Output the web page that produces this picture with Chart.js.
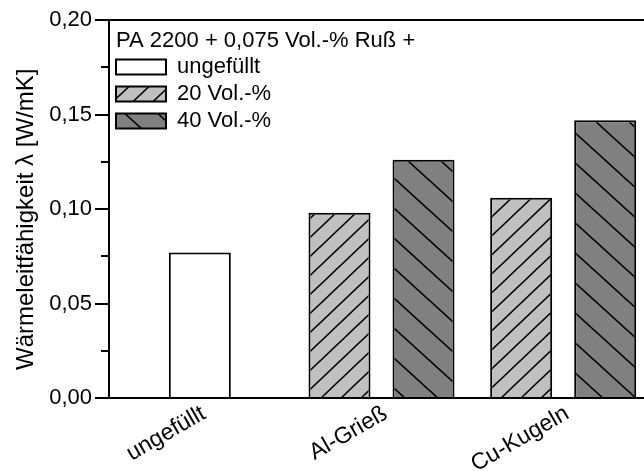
<!DOCTYPE html>
<html>
<head>
<meta charset="utf-8">
<script src="https://cdn.jsdelivr.net/npm/chart.js@4.4.1/dist/chart.umd.min.js"></script>
<style>
  html, body { margin: 0; padding: 0; overflow: hidden; background: #fff; }
  #wrap { width: 660px; height: 471px; position: relative; }
</style>
</head>
<body>
<div id="wrap"><canvas id="c"></canvas></div>
<script>
// ---- data ----
const categories = ['ungefüllt', 'Al-Grieß', 'Cu-Kugeln'];
const seriesNames = ['ungefüllt', '20 Vol.-%', '40 Vol.-%'];
const valuesUnfilled = [0.077, null, null];
const values20 = [null, 0.098, 0.106];
const values40 = [null, 0.126, 0.147];
const yTickLabels = ['0,00', '0,05', '0,10', '0,15', '0,20'];
const legendHeading = 'PA 2200 + 0,075 Vol.-% Ruß +';
const yAxisTitle = 'Wärmeleitfähigkeit λ [W/mK]';

const FONT = "'Liberation Sans', Arial, Helvetica, sans-serif";
Chart.defaults.font.family = FONT;
Chart.defaults.color = '#000';

function hatch(bg, w, h, dir) {
  const c = document.createElement('canvas');
  c.width = w; c.height = h;
  const g = c.getContext('2d');
  g.fillStyle = bg; g.fillRect(0, 0, w, h);
  g.strokeStyle = '#000'; g.lineWidth = 1.6;
  g.beginPath();
  if (dir > 0) {
    for (let k = 0; k <= 2; k++) { g.moveTo(w * (k + 1), -h); g.lineTo(w * (k - 2), 2 * h); }
  } else {
    for (let k = -1; k <= 1; k++) { g.moveTo(w * (k - 1), -h); g.lineTo(w * (k + 2), 2 * h); }
  }
  g.stroke();
  return g.createPattern(c, 'repeat');
}
const pat20 = hatch('#c0c0c0', 20, 19, 1);
const pat40 = hatch('#808080', 33, 30, -1);

const textPlugin = {
  id: 'texts',
  afterLayout(chart) {
    // place the legend inside the plot, below its heading
    const lg = chart.legend;
    const dy = chart.chartArea.top + 31 - lg.top;
    lg.top += dy; lg.bottom += dy;
    const dx = chart.chartArea.left + 2 - lg.left;
    lg.left += dx; lg.right += dx;
  },
  afterDraw(chart) {
    const ctx = chart.ctx;
    ctx.save();
    ctx.fillStyle = '#000';
    ctx.font = '22px ' + FONT;
    ctx.textAlign = 'left';
    ctx.textBaseline = 'middle';
    ctx.fillText(legendHeading, chart.chartArea.left + 7, chart.chartArea.top + 21);
    ctx.font = '24px ' + FONT;
    ctx.translate(33, 370);
    ctx.rotate(-Math.PI / 2);
    ctx.textBaseline = 'alphabetic';
    ctx.fillText(yAxisTitle, 0, 0);
    ctx.restore();
  }
};

new Chart(document.getElementById('c'), {
  type: 'bar',
  data: {
    labels: categories,
    datasets: [
      { label: seriesNames[0], data: valuesUnfilled, backgroundColor: '#ffffff', borderColor: '#000', borderWidth: 2 },
      { label: seriesNames[1], data: values20, backgroundColor: pat20, borderColor: '#000', borderWidth: 2 },
      { label: seriesNames[2], data: values40, backgroundColor: pat40, borderColor: '#000', borderWidth: 2 }
    ]
  },
  options: {
    responsive: true,
    maintainAspectRatio: false,
    animation: false,
    layout: { padding: { top: 20, right: 6, bottom: 0, left: 0 } },
    datasets: {
      bar: { skipNull: true, categoryPercentage: 0.925, barPercentage: 0.738, maxBarThickness: 62 }
    },
    plugins: {
      tooltip: { enabled: false },
      legend: {
        position: 'chartArea',
        align: 'start',
        labels: {
          boxWidth: 50, boxHeight: 15, padding: 5,
          color: '#000',
          font: { size: 22, family: FONT }
        }
      }
    },
    scales: {
      x: {
        offset: true,
        grid: { display: false },
        border: { display: true, color: '#000', width: 2 },
        ticks: { minRotation: 30, maxRotation: 30, color: '#000', font: { size: 23, family: FONT }, padding: -6, labelOffset: 4 },
        afterFit(scale) { scale.height = 73; }
      },
      y: {
        min: 0, max: 0.2,
        border: { display: true, color: '#000', width: 2 },
        grid: {
          drawOnChartArea: true,
          color: (c) => (c.tick && Math.abs(c.tick.value - 0.2) < 1e-9) ? '#000' : 'rgba(0,0,0,0)',
          lineWidth: 2,
          tickColor: '#000',
          tickWidth: 2,
          tickLength: 14,
          tickBorderDash: (c) => (c.index % 2 === 1) ? [0, 6, 20, 0] : []
        },
        ticks: {
          stepSize: 0.025,
          autoSkip: false,
          padding: 3,
          color: '#000',
          font: { size: 22, family: FONT },
          callback: (v, i) => (i % 2 === 0) ? yTickLabels[i / 2] : ''
        },
        afterFit(scale) { scale.width = 109; }
      }
    }
  },
  plugins: [textPlugin]
});
</script>
</body>
</html>
